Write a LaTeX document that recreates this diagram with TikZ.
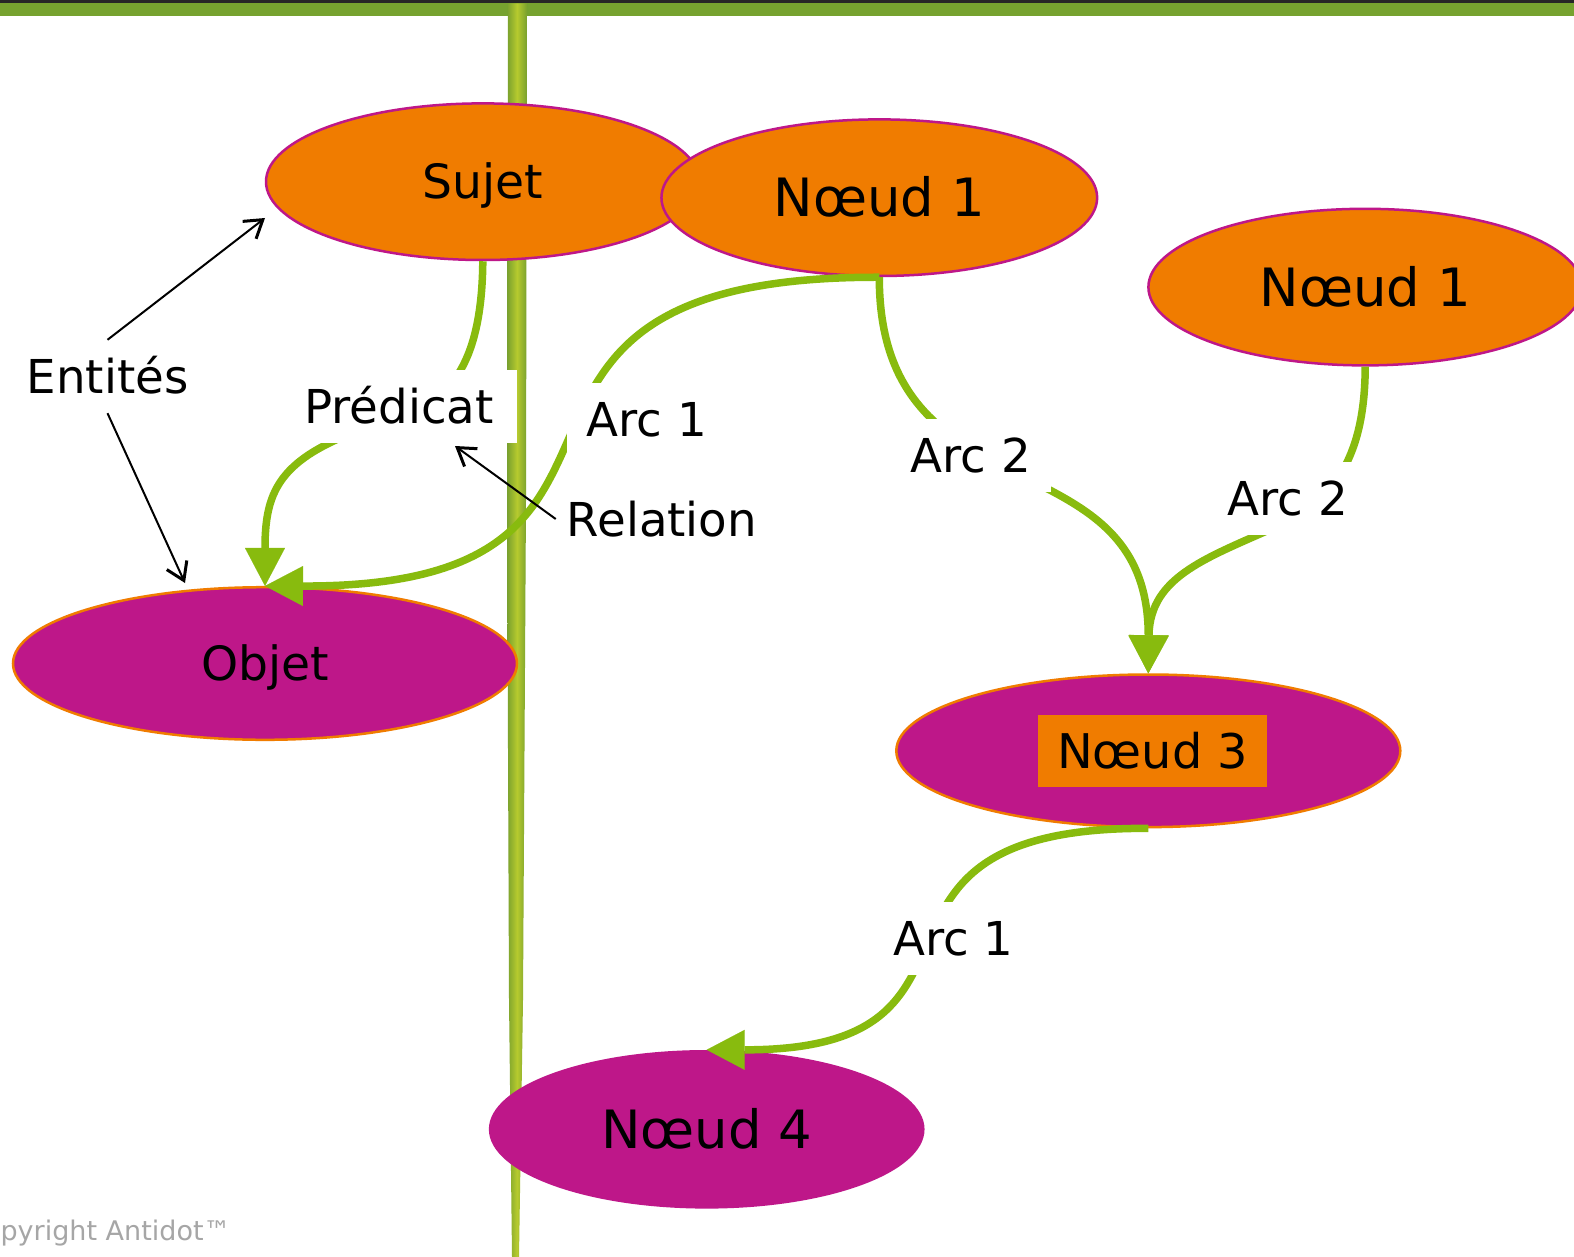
\documentclass[tikz,border=0pt]{standalone}
\usepackage{fontspec}
\setmainfont{DejaVu Sans}
\usetikzlibrary{arrows.meta,shapes.geometric}

\definecolor{orangeN}{HTML}{F07C00}
\definecolor{magentaN}{HTML}{BE1789}
\definecolor{vertArc}{HTML}{88BB0E}
\definecolor{vertBarre}{HTML}{76A22F}
\definecolor{tigeClair}{HTML}{B6CA2E}
\definecolor{tigeFonce}{HTML}{78A02E}
\definecolor{grisCopy}{HTML}{A6A6A6}

\tikzset{
  noeudO/.style={ellipse, inner sep=0pt, fill=orangeN, draw=magentaN, line width=2.5pt,
    text height=34pt, text depth=0pt},
  noeudM/.style={ellipse, inner sep=0pt, fill=magentaN, draw=orangeN, line width=2.5pt,
    text height=34pt, text depth=0pt},
  petit/.style={font=\fontsize{47.2}{56}\selectfont},
  grand/.style={font=\fontsize{52.8}{63}\selectfont, text height=38.5pt},
  etiquette/.style={fill=white, inner xsep=20pt, inner ysep=19.5pt,
    font=\fontsize{46.7}{56}\selectfont, text height=34pt, text depth=0pt},
  texte/.style={inner xsep=11pt, inner ysep=19.5pt,
    font=\fontsize{46.7}{56}\selectfont, text height=34pt, text depth=0pt},
  lien/.style={draw=vertArc, line width=7.5pt,
    -{Triangle[length=38pt,width=40pt,line width=0.1pt]}},
  fleche/.style={draw=black, line width=2pt,
    -{Straight Barb[length=17pt,width=22pt,line width=3pt]}},
}

\begin{document}
\begin{tikzpicture}[x=1pt,y=-1pt]
\useasboundingbox (0,0) rectangle (1574,1257);
\fill[white] (0,0) rectangle (1574,1257);

% top band
\fill[black!85] (0,0) rectangle (1574,3.5);
\fill[vertBarre] (0,3.5) rectangle (1574,16);

% vertical stem
\shade[left color=tigeFonce, right color=tigeFonce, middle color=tigeClair]
  (508,3.5) -- (527,3.5) -- (526,500) -- (523,1000) -- (519,1257)
  -- (512,1257) -- (509,1000) -- (507,500) -- cycle;

% nodes
\node[noeudO, petit, minimum width=433.6pt, minimum height=156.6pt] (sujet) at (482.8,181.7) {Sujet};
\node[noeudO, grand, minimum width=435.7pt, minimum height=156.6pt] (n1) at (879.3,197.7) {Nœud 1};
\node[noeudO, grand, minimum width=433.6pt, minimum height=156.6pt] (n1b) at (1365.2,287.1) {Nœud 1};
\node[noeudM, petit, minimum width=504pt, minimum height=152.6pt] (objet) at (265,663.5) {Objet};
\node[noeudM, minimum width=504pt, minimum height=152.6pt] (n3) at (1148.3,750.8) {};
\node[fill=orangeN, inner sep=0pt, minimum width=229pt, minimum height=72pt,
  font=\fontsize{47.8}{57}\selectfont, text height=34.8pt, text depth=0pt]
  (n3t) at (1152.5,751) {Nœud 3};
\node[ellipse, inner sep=0pt, fill=magentaN, grand, text depth=0pt,
  minimum width=435.7pt, minimum height=158.6pt] (n4) at (706.7,1129.3) {Nœud 4};

% arcs
\draw[lien] (sujet.south) .. controls (482,360) and (452,400) .. (402,416)
  .. controls (285,451) and (265,482) .. (objet.north);
\draw[lien] (n1.south) .. controls (415,276) and (716,587) .. (objet.north);
\draw[lien] (n1.south) .. controls (879,522) and (1148,432) .. (n3.north);
\draw[lien] (n1b.south) .. controls (1365,455) and (1335,500) .. (1280,525)
  .. controls (1210,557) and (1150,575) .. (n3.north);
\draw[lien] (n3.south) .. controls (820,827) and (1027,1050) .. (n4.north);

% arc labels
\node[etiquette, inner xsep=23pt] (pred) at (399,406.5) {Prédicat};
\node[etiquette] (arcA) at (647,419.5) {Arc 1};
\node[etiquette] (arcB) at (971,455.5) {Arc 2};
\node[etiquette] (arcC) at (1288,498) {Arc 2};
\node[etiquette] (arcD) at (953.5,938.5) {Arc 1};

% annotations
\node[texte] (ent) at (107.5,376.5) {Entités};
\node[texte] (rel) at (662,519) {Relation};
\coordinate (pSujet) at (265,218);
\coordinate (pObjet) at (185,583);
\coordinate (pPred) at (455,446);
\draw[fleche] (ent.north) -- (pSujet);
\draw[fleche] (ent.south) -- (pObjet);
\draw[fleche] (rel.west) -- (pPred);

\node[anchor=base west, inner sep=0pt, text=grisCopy, font=\fontsize{27}{32}\selectfont]
  (copy) at (-35,1240) {Copyright Antidot™};
\end{tikzpicture}
\end{document}
